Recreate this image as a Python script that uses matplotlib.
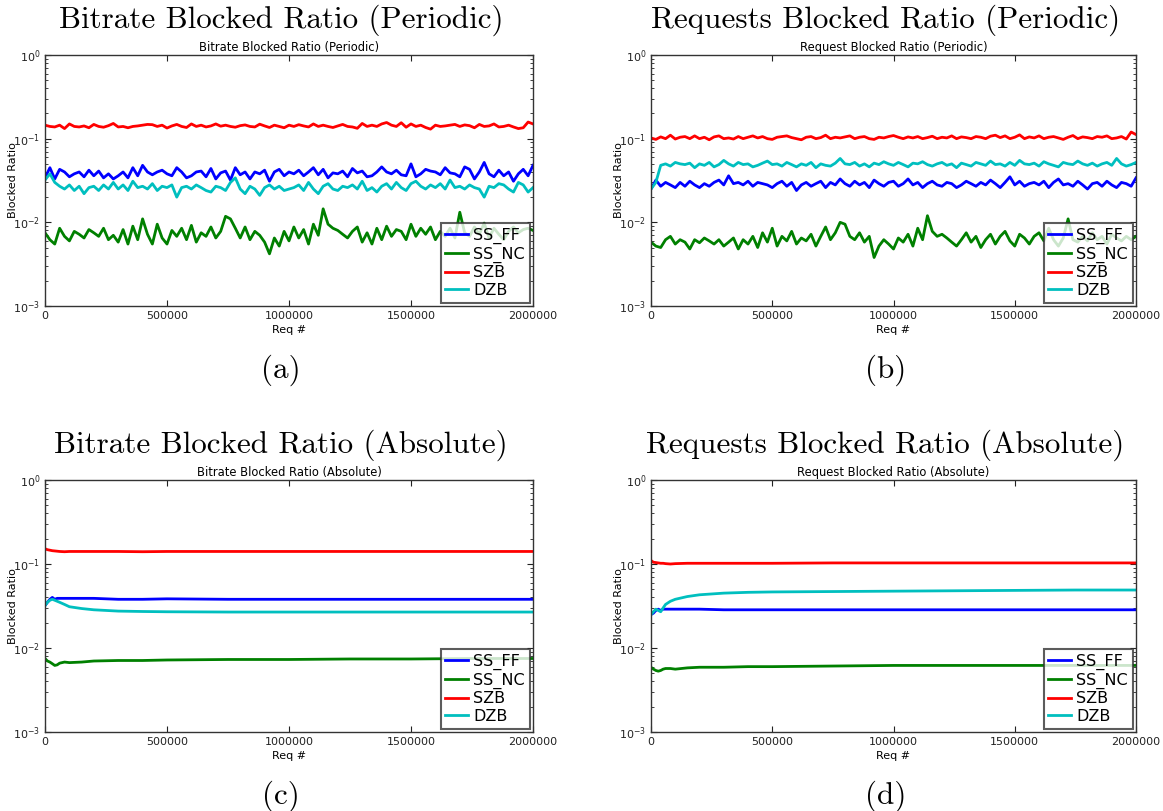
import numpy as np
import matplotlib
matplotlib.use("Agg")
import matplotlib.pyplot as plt
from matplotlib.ticker import LogLocator, NullFormatter

# ---------------- data ----------------
x_per = list(range(0, 2000001, 20000))
x_abs = [0, 10000, 20000, 30000, 40000, 50000, 60000, 80000, 100000, 150000,
         200000, 300000, 400000, 500000, 750000, 1000000, 1250000, 1500000,
         1750000, 2000000]
series_names = ["SS_FF", "SS_NC", "SZB", "DZB"]

# (a) Bitrate periodic
a_ssff = [0.034,0.045,0.033,0.043,0.04,0.035,0.038,0.04,0.035,0.042,
          0.036,0.041,0.034,0.038,0.033,0.036,0.04,0.034,0.045,0.036,
          0.048,0.04,0.037,0.04,0.042,0.038,0.036,0.045,0.04,0.034,
          0.036,0.04,0.041,0.035,0.044,0.033,0.039,0.041,0.032,0.045,
          0.037,0.04,0.033,0.04,0.038,0.042,0.031,0.04,0.043,0.036,
          0.04,0.038,0.042,0.036,0.04,0.045,0.037,0.043,0.034,0.039,
          0.038,0.041,0.035,0.044,0.039,0.041,0.035,0.036,0.04,0.046,
          0.04,0.038,0.042,0.037,0.036,0.05,0.035,0.038,0.043,0.041,
          0.04,0.037,0.045,0.039,0.038,0.035,0.046,0.043,0.033,0.04,
          0.052,0.038,0.035,0.042,0.036,0.04,0.031,0.038,0.043,0.036,0.048]
a_ssnc = [0.0075,0.0062,0.0055,0.0085,0.0068,0.006,0.0078,0.0072,0.0065,0.0082,
          0.0075,0.0068,0.0085,0.0062,0.007,0.0058,0.0082,0.0055,0.009,0.0062,
          0.011,0.0072,0.0055,0.0095,0.0065,0.0055,0.008,0.0068,0.0085,0.0062,
          0.0092,0.0058,0.0075,0.0068,0.0088,0.0065,0.0078,0.0118,0.011,0.0085,
          0.0065,0.0088,0.0062,0.0078,0.007,0.0058,0.0042,0.0065,0.0052,0.0078,
          0.006,0.0088,0.0065,0.0082,0.0055,0.0095,0.007,0.0145,0.0095,0.0085,
          0.008,0.0072,0.0065,0.0078,0.0088,0.0058,0.0075,0.0055,0.0085,0.0062,
          0.009,0.0068,0.0082,0.0078,0.0062,0.0095,0.0068,0.0085,0.0072,0.0088,
          0.0062,0.0078,0.0068,0.0085,0.0065,0.0132,0.0075,0.0068,0.0088,0.0072,
          0.0098,0.0065,0.0085,0.0072,0.0062,0.0078,0.0088,0.0075,0.0082,0.0085,0.008]
a_szb = [0.145,0.14,0.138,0.145,0.132,0.15,0.14,0.138,0.142,0.135,
         0.148,0.14,0.137,0.143,0.152,0.138,0.14,0.135,0.14,0.142,
         0.145,0.148,0.147,0.14,0.145,0.134,0.142,0.148,0.14,0.136,
         0.15,0.14,0.145,0.138,0.142,0.15,0.141,0.145,0.14,0.137,
         0.143,0.146,0.14,0.138,0.149,0.142,0.136,0.145,0.14,0.135,
         0.145,0.14,0.147,0.142,0.138,0.15,0.14,0.145,0.14,0.136,
         0.142,0.148,0.14,0.138,0.133,0.152,0.14,0.145,0.14,0.15,
         0.156,0.145,0.14,0.155,0.137,0.15,0.14,0.145,0.136,0.13,
         0.145,0.14,0.142,0.145,0.148,0.14,0.146,0.143,0.135,0.148,
         0.14,0.142,0.15,0.138,0.14,0.145,0.138,0.132,0.135,0.158,0.15]
a_dzb = [0.032,0.038,0.03,0.027,0.025,0.028,0.024,0.027,0.022,0.026,
         0.027,0.024,0.028,0.025,0.03,0.025,0.028,0.024,0.031,0.026,
         0.027,0.025,0.029,0.024,0.027,0.026,0.028,0.02,0.026,0.027,
         0.025,0.028,0.026,0.024,0.023,0.027,0.026,0.024,0.03,0.034,
         0.025,0.022,0.027,0.025,0.021,0.026,0.028,0.025,0.027,0.024,
         0.025,0.026,0.028,0.024,0.03,0.025,0.022,0.027,0.029,0.025,
         0.024,0.027,0.026,0.028,0.025,0.031,0.024,0.026,0.023,0.027,
         0.029,0.025,0.03,0.026,0.024,0.029,0.031,0.027,0.025,0.028,
         0.026,0.029,0.025,0.032,0.026,0.027,0.025,0.028,0.026,0.025,
         0.02,0.027,0.026,0.029,0.028,0.025,0.023,0.03,0.028,0.023,0.026]

# (b) Requests periodic
b_ssff = [0.025,0.032,0.027,0.03,0.028,0.026,0.03,0.027,0.031,0.028,
          0.026,0.029,0.027,0.03,0.032,0.028,0.036,0.029,0.03,0.028,
          0.031,0.027,0.03,0.029,0.028,0.026,0.029,0.031,0.027,0.03,
          0.024,0.028,0.03,0.027,0.029,0.031,0.026,0.03,0.028,0.033,
          0.029,0.027,0.031,0.028,0.03,0.026,0.032,0.029,0.027,0.03,
          0.031,0.027,0.029,0.033,0.028,0.03,0.026,0.029,0.031,0.028,
          0.027,0.03,0.029,0.026,0.028,0.031,0.029,0.027,0.03,0.028,
          0.032,0.029,0.026,0.03,0.035,0.028,0.031,0.027,0.029,0.03,
          0.028,0.031,0.026,0.03,0.033,0.028,0.029,0.027,0.031,0.028,
          0.025,0.029,0.03,0.027,0.031,0.028,0.026,0.03,0.029,0.027,0.034]
b_ssnc = [0.0058,0.0052,0.005,0.0062,0.0068,0.0055,0.0062,0.0058,0.0048,0.0062,
          0.0057,0.0065,0.006,0.0055,0.0062,0.0052,0.0058,0.0065,0.0048,0.0062,
          0.0055,0.0068,0.005,0.0075,0.0058,0.0085,0.0052,0.0068,0.006,0.0078,
          0.0055,0.0065,0.006,0.0072,0.0052,0.0068,0.0088,0.0062,0.0075,0.01,
          0.0095,0.0068,0.0062,0.0075,0.0058,0.0068,0.0038,0.0052,0.0062,0.0055,
          0.0048,0.0065,0.0058,0.0072,0.0052,0.0085,0.0062,0.012,0.0078,0.0068,
          0.0072,0.0065,0.0058,0.0052,0.0062,0.0075,0.0058,0.0068,0.005,0.0062,
          0.0072,0.0055,0.0068,0.0078,0.006,0.0052,0.0072,0.0065,0.0055,0.0068,
          0.0075,0.006,0.0085,0.0062,0.0052,0.0065,0.011,0.0062,0.0058,0.0068,
          0.006,0.0075,0.0062,0.0068,0.0055,0.0072,0.0065,0.006,0.0068,0.0062,0.0068]
b_szb = [0.102,0.098,0.105,0.1,0.11,0.099,0.104,0.106,0.1,0.108,
         0.1,0.104,0.097,0.105,0.108,0.1,0.102,0.099,0.106,0.1,
         0.104,0.108,0.102,0.106,0.1,0.098,0.104,0.106,0.108,0.103,
         0.1,0.097,0.104,0.106,0.1,0.103,0.11,0.1,0.104,0.102,
         0.105,0.108,0.1,0.104,0.106,0.1,0.098,0.104,0.102,0.106,
         0.109,0.104,0.1,0.105,0.102,0.106,0.1,0.103,0.107,0.1,
         0.104,0.102,0.108,0.1,0.105,0.103,0.1,0.106,0.104,0.1,
         0.107,0.11,0.103,0.108,0.1,0.104,0.111,0.1,0.105,0.102,
         0.108,0.1,0.104,0.106,0.102,0.098,0.104,0.109,0.1,0.105,
         0.103,0.1,0.106,0.104,0.108,0.1,0.102,0.106,0.099,0.12,0.112]
b_dzb = [0.025,0.03,0.048,0.05,0.047,0.052,0.05,0.049,0.051,0.045,
         0.05,0.048,0.052,0.046,0.049,0.055,0.05,0.047,0.052,0.049,
         0.05,0.046,0.048,0.051,0.054,0.049,0.05,0.047,0.052,0.049,
         0.046,0.05,0.048,0.052,0.045,0.05,0.048,0.047,0.051,0.058,
         0.05,0.049,0.052,0.047,0.05,0.046,0.051,0.049,0.053,0.05,
         0.048,0.052,0.049,0.046,0.051,0.05,0.053,0.049,0.047,0.05,
         0.052,0.048,0.05,0.045,0.051,0.049,0.047,0.052,0.05,0.048,
         0.054,0.049,0.05,0.047,0.052,0.048,0.055,0.05,0.049,0.051,
         0.047,0.053,0.05,0.048,0.046,0.052,0.05,0.049,0.054,0.05,
         0.048,0.051,0.047,0.05,0.052,0.048,0.058,0.05,0.047,0.049,0.052]

# (c) Bitrate absolute
c_ssff = [0.032,0.035,0.038,0.04,0.038,0.039,0.039,0.039,0.039,0.039,
          0.039,0.038,0.038,0.0385,0.038,0.038,0.038,0.038,0.038,0.038]
c_ssnc = [0.0075,0.007,0.0068,0.0065,0.0062,0.0063,0.0066,0.0068,0.0067,0.0068,
          0.007,0.0071,0.0071,0.0072,0.0073,0.0073,0.0074,0.0074,0.0075,0.0075]
c_szb = [0.152,0.148,0.146,0.144,0.143,0.142,0.141,0.14,0.141,0.141,
         0.141,0.141,0.14,0.141,0.141,0.141,0.141,0.141,0.141,0.141]
c_dzb = [0.032,0.035,0.037,0.038,0.037,0.036,0.035,0.033,0.031,0.0295,
         0.0285,0.0275,0.0272,0.027,0.0268,0.0268,0.0268,0.0268,0.0268,0.0268]

# (d) Requests absolute
d_ssff = [0.025,0.026,0.028,0.029,0.028,0.029,0.029,0.029,0.029,0.029,
          0.029,0.0285,0.0285,0.0285,0.0285,0.0285,0.0285,0.0285,0.0285,0.0285]
d_ssnc = [0.0059,0.0056,0.0054,0.0053,0.0054,0.0056,0.0057,0.0057,0.0056,0.0058,
          0.0059,0.0059,0.006,0.006,0.0061,0.0062,0.0062,0.0062,0.0062,0.0062]
d_szb = [0.11,0.105,0.104,0.103,0.102,0.102,0.101,0.1,0.101,0.102,
         0.102,0.102,0.102,0.102,0.103,0.103,0.103,0.103,0.103,0.103]
d_dzb = [0.025,0.027,0.029,0.028,0.027,0.03,0.033,0.036,0.038,0.041,
         0.043,0.045,0.046,0.0465,0.047,0.0475,0.048,0.0485,0.049,0.049]

big_titles = ["Bitrate Blocked Ratio (Periodic)", "Requests Blocked Ratio (Periodic)",
              "Bitrate Blocked Ratio (Absolute)", "Requests Blocked Ratio (Absolute)"]
small_titles = ["Bitrate Blocked Ratio (Periodic)", "Request Blocked Ratio (Periodic)",
                "Bitrate Blocked Ratio (Absolute)", "Request Blocked Ratio (Absolute)"]
captions = ["(a)", "(b)", "(c)", "(d)"]

# ---------------- plot ----------------
W, H = 1163, 811
fig = plt.figure(figsize=(W / 100, H / 100), dpi=100)
colors = ["#0000ff", "#008000", "#ff0000", "#00bfbf"]

panels = [
    (x_per, [a_ssff, a_ssnc, a_szb, a_dzb]),
    (x_per, [b_ssff, b_ssnc, b_szb, b_dzb]),
    (x_abs, [c_ssff, c_ssnc, c_szb, c_dzb]),
    (x_abs, [d_ssff, d_ssnc, d_szb, d_dzb]),
]
# axes boxes in pixels: left, top, right, bottom
boxes = [(45, 55, 533, 306), (651, 55, 1136, 306),
         (45, 480, 533, 732), (651, 480, 1136, 732)]

for i, ((xs, ys), (l, t, r, b)) in enumerate(zip(panels, boxes)):
    ax = fig.add_axes([l / W, 1 - b / H, (r - l) / W, (b - t) / H])
    for y, c, name in zip(ys, colors, series_names):
        ax.plot(xs, y, color=c, lw=2, label=name)
    ax.set_yscale("log")
    ax.set_ylim(1e-3, 1)
    ax.set_xlim(0, 2000000)
    ax.set_xticks([0, 500000, 1000000, 1500000, 2000000])
    ax.ticklabel_format(style="plain", axis="x", useOffset=False)
    ax.yaxis.set_minor_locator(LogLocator(base=10, subs=np.arange(2, 10)))
    ax.yaxis.set_minor_formatter(NullFormatter())
    ax.tick_params(which="both", direction="in", top=True, right=True,
                   labelsize=8, colors="#222222")
    ax.tick_params(which="major", length=4)
    ax.tick_params(which="minor", length=2)
    for s in ax.spines.values():
        s.set_color("#333333")
        s.set_linewidth(1.0)
    ax.set_title(small_titles[i], fontsize=8.3, pad=3)
    ax.set_ylabel("Blocked Ratio", fontsize=8)
    ax.yaxis.set_label_coords(-0.056, 0.5)
    ax.set_xlabel("Req #", fontsize=8, labelpad=3)
    leg = ax.legend(loc="lower right", fontsize=11.5, fancybox=False,
                    borderaxespad=0.2, handlelength=1.4, labelspacing=0.16,
                    borderpad=0.3, handletextpad=0.35)
    leg.get_frame().set_edgecolor("#333333")
    leg.get_frame().set_linewidth(1.5)
    cx = (l + r) / 2 - 8
    fig.text(cx / W, 1 - (t - 35) / H, big_titles[i], family="cmr10",
             fontsize=22.4, ha="center", va="center")
    fig.text(cx / W, 1 - (b + 64) / H, captions[i], family="cmr10",
             fontsize=22.4, ha="center", va="center")

fig.savefig("out.png", dpi=100)
